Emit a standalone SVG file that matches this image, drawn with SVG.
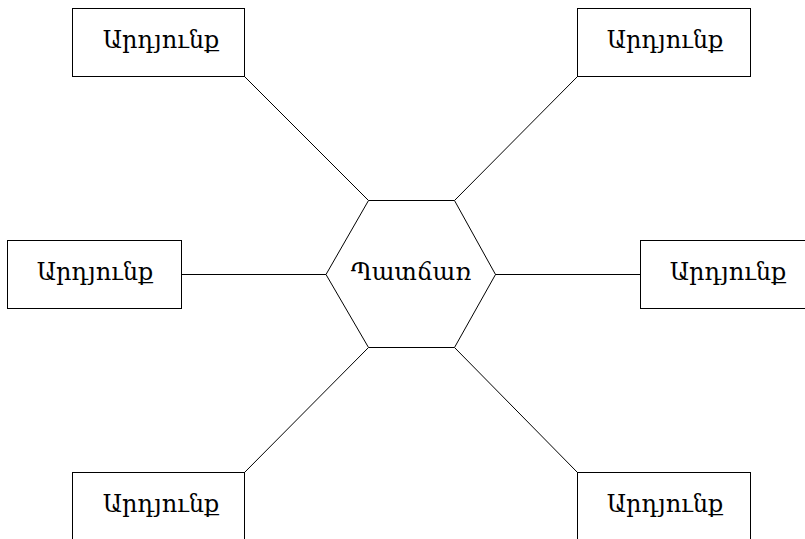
<svg xmlns="http://www.w3.org/2000/svg" width="805" height="539" viewBox="0 0 805 539">
<style>
.n{fill:#fff;stroke:#000;stroke-width:1}
.c{stroke:#000;stroke-width:1;fill:none}
text{font-family:"DejaVu Serif","Noto Serif","Liberation Serif",serif;font-size:24px;fill:#000;text-anchor:middle}
</style>
<rect width="805" height="539" fill="#fff"/>
<g id="connectors">
<line class="c" x1="244.5" y1="76.5" x2="368.5" y2="200.5"/>
<line class="c" x1="577.5" y1="76.5" x2="454.5" y2="200.5"/>
<line class="c" x1="181.5" y1="274.5" x2="326" y2="274.5"/>
<line class="c" x1="495" y1="274.5" x2="640.5" y2="274.5"/>
<line class="c" x1="244.5" y1="472.5" x2="368.5" y2="347.5"/>
<line class="c" x1="577.5" y1="472.5" x2="454.5" y2="347.5"/>
</g>
<g id="cause">
<polygon class="n" points="368.5,200.5 454.5,200.5 495.5,274.5 454.5,347.5 368.5,347.5 326,274.5"/>
<text x="411" y="280">Պատճառ</text>
</g>
<g id="effect-tl">
<rect class="n" x="72.5" y="8.5" width="172" height="68"/>
<text x="161" y="48">Արդյունք</text>
</g>
<g id="effect-tr">
<rect class="n" x="577.5" y="8.5" width="173" height="68"/>
<text x="665" y="48">Արդյունք</text>
</g>
<g id="effect-l">
<rect class="n" x="7.5" y="240.5" width="174" height="68"/>
<text x="95" y="280">Արդյունք</text>
</g>
<g id="effect-r">
<rect class="n" x="640.5" y="240.5" width="174" height="68"/>
<text x="728" y="280">Արդյունք</text>
</g>
<g id="effect-bl">
<rect class="n" x="72.5" y="472.5" width="172" height="68"/>
<text x="161" y="512">Արդյունք</text>
</g>
<g id="effect-br">
<rect class="n" x="577.5" y="472.5" width="173" height="68"/>
<text x="665" y="512">Արդյունք</text>
</g>
</svg>
